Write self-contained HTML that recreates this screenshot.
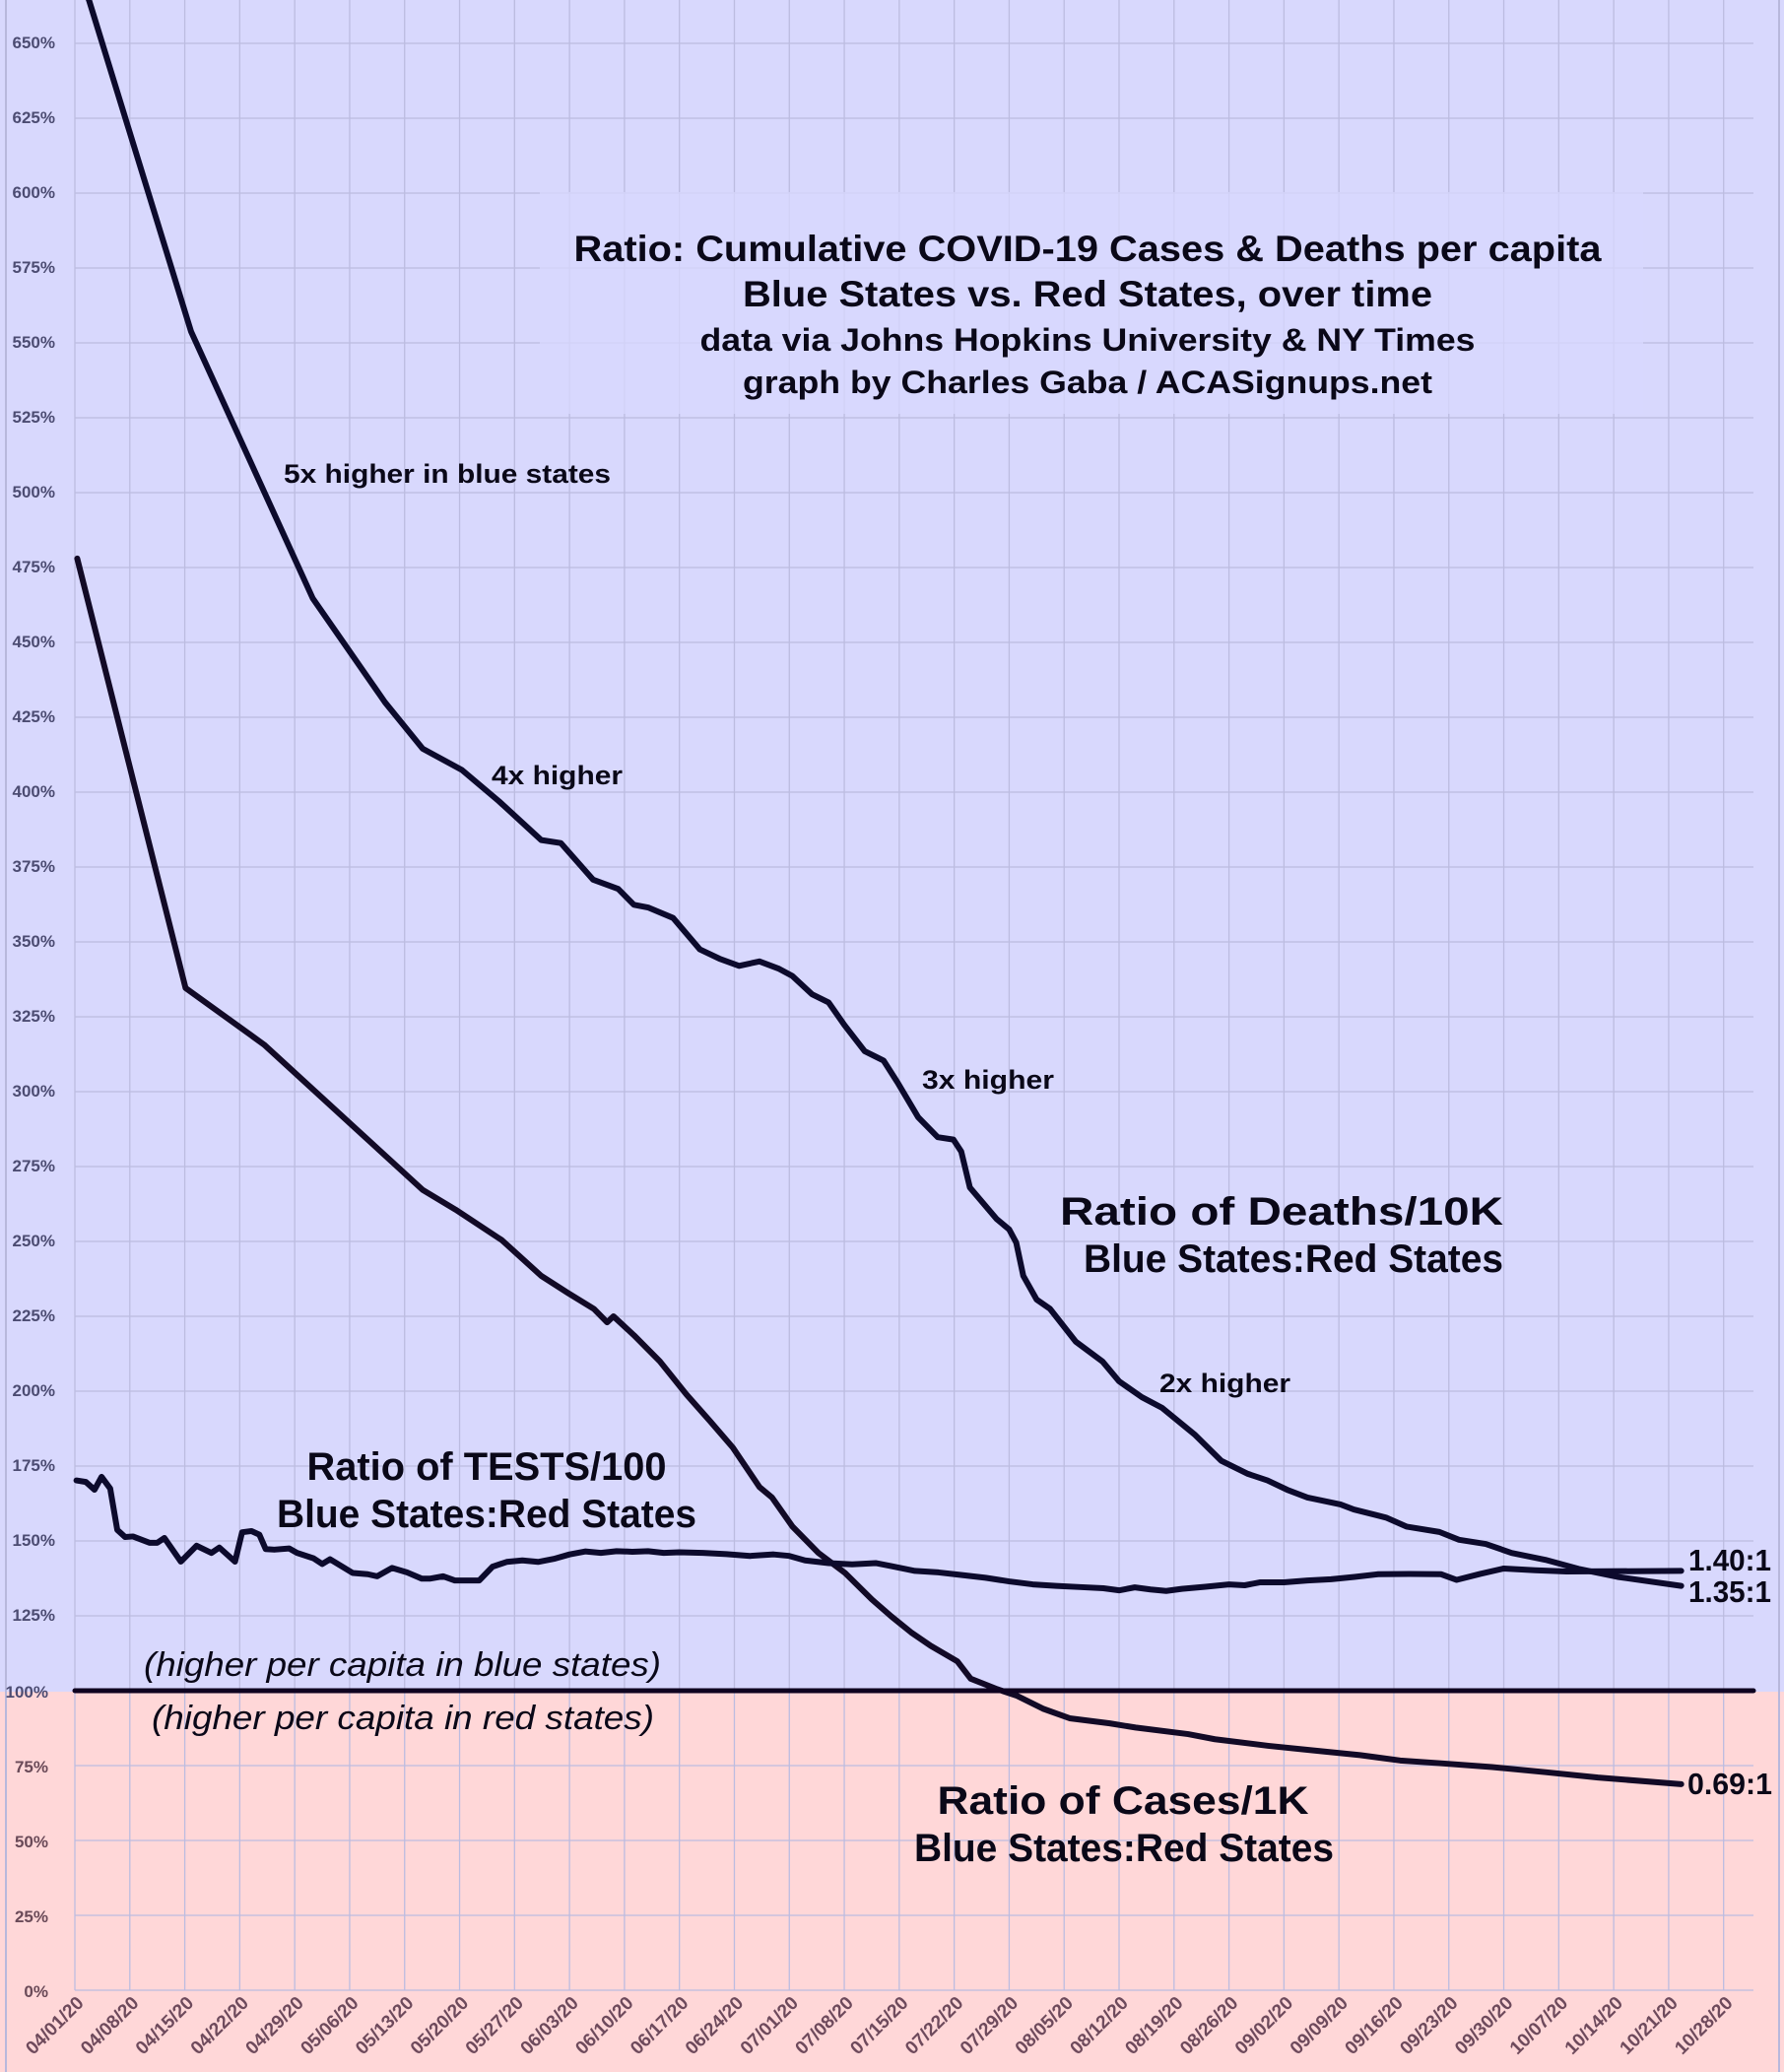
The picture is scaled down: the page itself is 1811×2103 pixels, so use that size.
<!DOCTYPE html>
<html><head><meta charset="utf-8"><style>
html,body{margin:0;padding:0;background:#d8d8fc}
svg{display:block}
text{font-family:"Liberation Sans",sans-serif}
</style></head><body>
<svg width="1811" height="2103" viewBox="0 0 1811 2103" xmlns="http://www.w3.org/2000/svg">
<rect x="0" y="0" width="1811" height="1717" fill="#d8d8fd"/>
<rect x="0" y="1717" width="1811" height="386" fill="#ffd7d8"/>
<line x1="6" y1="0" x2="6" y2="2103" stroke="#b8b8dc" stroke-width="2"/>
<line x1="1806" y1="0" x2="1806" y2="2103" stroke="#b8b8dc" stroke-width="2"/>
<g transform="translate(76,2020) scale(7.97,-3.04)" fill="none" stroke="#bcbce0" stroke-width="1.3">
<path vector-effect="non-scaling-stroke" d="M0,0V665M7,0V665M14,0V665M21,0V665M28,0V665M35,0V665M42,0V665M49,0V665M56,0V665M63,0V665M70,0V665M77,0V665M84,0V665M91,0V665M98,0V665M105,0V665M112,0V665M119,0V665M126,0V665M133,0V665M140,0V665M147,0V665M154,0V665M161,0V665M168,0V665M175,0V665M182,0V665M189,0V665M196,0V665M203,0V665M210,0V665"/>
<path vector-effect="non-scaling-stroke" d="M0,0H213.8M0,25H213.8M0,50H213.8M0,75H213.8M0,125H213.8M0,150H213.8M0,175H213.8M0,200H213.8M0,225H213.8M0,250H213.8M0,275H213.8M0,300H213.8M0,325H213.8M0,350H213.8M0,375H213.8M0,400H213.8M0,425H213.8M0,450H213.8M0,475H213.8M0,500H213.8M0,525H213.8M0,550H213.8M0,575H213.8M0,600H213.8M0,625H213.8M0,650H213.8"/>
</g>
<rect x="548" y="195" width="1120" height="225" fill="#d8d8fd" opacity="0.75"/>
<g transform="translate(76,2020) scale(7.97,-3.04)" fill="none" stroke-linejoin="round" stroke-linecap="round">
<polyline vector-effect="non-scaling-stroke" stroke="#0c0a2c" stroke-width="6" points="0,678 1.85,664 14.8,553.8 30.3,464.7 39.5,430 44.3,414.5 49.3,407.4 54,397 59.4,384 61.9,383 66,370.8 69.2,367.7 71.2,362.4 73,361.5 76.2,358 79.6,347.5 82.1,344.4 84.6,342 87.2,343.5 89.7,341 91.4,338.6 93.9,332.5 96,329.8 98,322.3 100.6,313.5 103,310.4 104.8,303 107.4,291.5 109.9,284.8 111.9,284 112.9,280 114,268 117.4,257.5 119,254 119.9,249.6 120.8,238.5 122.5,230.6 124.2,227.5 127.5,216.5 130.9,209.9 133,203.3 135.9,198 138.5,194.4 142.6,185.6 146,176.8 149.4,172.4 151.9,170.2 154.4,167.1 157,164.5 161.2,162.2 162.9,160.5 167,157.8 169.6,154.8 173.8,153 176.3,150.4 179.7,149 183,146 187.3,143.7 191.5,140.7 196.5,138 204.6,135"/>
<polyline vector-effect="non-scaling-stroke" stroke="#120a26" stroke-width="6" points="0.3,478 14.1,334.6 24.1,315.7 44.3,267.2 48.5,260.6 54.4,250.4 59.4,238.5 62.8,232.8 66.1,227.5 67.8,223 68.6,225 71.2,218.7 74.5,210 77.9,198.9 80.9,190 83.8,181.2 87.2,168 88.8,164.5 91.4,154.8 94.7,146 98.1,139.3 101.5,130.5 104,124.8 106.5,119.5 109,115 112.4,109.8 114.1,104 117.5,100.5 120,98.3 123.3,94 126.7,90.8 131.8,89.1 135.1,87.7 141.8,85.5 145.2,83.8 152,81.6 158.7,79.8 163.7,78.5 168.8,76.7 173.8,75.8 180.5,74.5 187.3,72.8 194,71 204.6,68.8"/>
<polyline vector-effect="non-scaling-stroke" stroke="#0c0a2c" stroke-width="6" points="0.2,170.2 1.4,169.7 2.5,167.1 3.4,171.4 4.5,167.5 5.4,153.7 6.4,151.3 7.4,151.5 9.5,149.4 10.5,149.4 11.4,151 13.5,143.1 15.5,148.4 17.4,146 18.4,147.8 20.4,143.1 21.3,152.9 22.5,153.3 23.5,152.1 24.3,147.3 25.4,147.1 27.3,147.5 28.3,146 30.4,144.2 31.5,142.3 32.5,143.9 35.4,139.3 37.3,138.9 38.5,138.2 40.4,141 42.3,139.5 44.2,137.4 45.2,137.4 46.9,138.2 48.4,136.8 51.5,136.8 53.2,141.4 55,143 57,143.5 59,143 61,144 63,145.5 65,146.5 67,146 69,146.6 71,146.4 73,146.6 75,146 77,146.2 80,146 83,145.6 86,145 89,145.5 91,145 93,143.5 96,142.6 99,142.2 102,142.6 104,141.6 107,140 110,139.5 113,138.6 116,137.7 119,136.5 122,135.5 125,135 128,134.6 131,134.2 133,133.5 135,134.5 137,133.8 139,133.3 141,134 144,134.7 147,135.5 149,135.2 151,136.2 154,136.2 157,136.8 160,137.2 163,138 166,138.9 170,139 174,138.9 176,137 179,139 182,140.8 186,140.2 190,139.8 204.6,140"/>
<path vector-effect="non-scaling-stroke" stroke="#0e0220" stroke-width="5" d="M0,100H213.8"/>
</g>
<g font-size="17" font-weight="bold" fill="#4c4c72" text-anchor="end">
<text x="56" y="49">650%</text><text x="56" y="125">625%</text><text x="56" y="201">600%</text><text x="56" y="277">575%</text><text x="56" y="353">550%</text><text x="56" y="429">525%</text><text x="56" y="505">500%</text><text x="56" y="581">475%</text><text x="56" y="657">450%</text><text x="56" y="733">425%</text><text x="56" y="809">400%</text><text x="56" y="885">375%</text><text x="56" y="961">350%</text><text x="56" y="1037">325%</text><text x="56" y="1113">300%</text><text x="56" y="1189">275%</text><text x="56" y="1265">250%</text><text x="56" y="1341">225%</text><text x="56" y="1417">200%</text><text x="56" y="1493">175%</text><text x="56" y="1569">150%</text><text x="56" y="1645">125%</text><text x="49" y="1723">100%</text>
</g>
<g font-size="17" font-weight="bold" fill="#6a4a58" text-anchor="end">
<text x="49" y="1799">75%</text><text x="49" y="1875">50%</text><text x="49" y="1951">25%</text><text x="49" y="2027">0%</text>
</g>
<g font-size="19" font-weight="bold" fill="#6e4a5c" text-anchor="end">
<text transform="translate(86,2034) rotate(-45)">04/01/20</text>
<text transform="translate(141.8,2034) rotate(-45)">04/08/20</text>
<text transform="translate(197.6,2034) rotate(-45)">04/15/20</text>
<text transform="translate(253.4,2034) rotate(-45)">04/22/20</text>
<text transform="translate(309.2,2034) rotate(-45)">04/29/20</text>
<text transform="translate(365,2034) rotate(-45)">05/06/20</text>
<text transform="translate(420.8,2034) rotate(-45)">05/13/20</text>
<text transform="translate(476.6,2034) rotate(-45)">05/20/20</text>
<text transform="translate(532.4,2034) rotate(-45)">05/27/20</text>
<text transform="translate(588.2,2034) rotate(-45)">06/03/20</text>
<text transform="translate(644,2034) rotate(-45)">06/10/20</text>
<text transform="translate(699.8,2034) rotate(-45)">06/17/20</text>
<text transform="translate(755.6,2034) rotate(-45)">06/24/20</text>
<text transform="translate(811.4,2034) rotate(-45)">07/01/20</text>
<text transform="translate(867.2,2034) rotate(-45)">07/08/20</text>
<text transform="translate(923,2034) rotate(-45)">07/15/20</text>
<text transform="translate(978.8,2034) rotate(-45)">07/22/20</text>
<text transform="translate(1034.6,2034) rotate(-45)">07/29/20</text>
<text transform="translate(1090.4,2034) rotate(-45)">08/05/20</text>
<text transform="translate(1146.2,2034) rotate(-45)">08/12/20</text>
<text transform="translate(1202,2034) rotate(-45)">08/19/20</text>
<text transform="translate(1257.8,2034) rotate(-45)">08/26/20</text>
<text transform="translate(1313.6,2034) rotate(-45)">09/02/20</text>
<text transform="translate(1369.4,2034) rotate(-45)">09/09/20</text>
<text transform="translate(1425.2,2034) rotate(-45)">09/16/20</text>
<text transform="translate(1481,2034) rotate(-45)">09/23/20</text>
<text transform="translate(1536.8,2034) rotate(-45)">09/30/20</text>
<text transform="translate(1592.6,2034) rotate(-45)">10/07/20</text>
<text transform="translate(1648.4,2034) rotate(-45)">10/14/20</text>
<text transform="translate(1704.2,2034) rotate(-45)">10/21/20</text>
<text transform="translate(1760,2034) rotate(-45)">10/28/20</text>
</g>
<g font-weight="bold" fill="#0a0818" text-anchor="middle">
<text x="1104" y="265" font-size="37" textLength="1043" lengthAdjust="spacingAndGlyphs">Ratio: Cumulative COVID-19 Cases &amp; Deaths per capita</text>
<text x="1104" y="311" font-size="37" textLength="700" lengthAdjust="spacingAndGlyphs">Blue States vs. Red States, over time</text>
<text x="1104" y="356" font-size="32" textLength="787" lengthAdjust="spacingAndGlyphs">data via Johns Hopkins University &amp; NY Times</text>
<text x="1104" y="399" font-size="32" textLength="700" lengthAdjust="spacingAndGlyphs">graph by Charles Gaba / ACASignups.net</text>
<text x="1301" y="1243" font-size="40" textLength="450" lengthAdjust="spacingAndGlyphs">Ratio of Deaths/10K</text>
<text x="1313" y="1291" font-size="40" textLength="426" lengthAdjust="spacingAndGlyphs">Blue States:Red States</text>
<text x="494" y="1502" font-size="40" textLength="365" lengthAdjust="spacingAndGlyphs">Ratio of TESTS/100</text>
<text x="494" y="1550" font-size="40" textLength="426" lengthAdjust="spacingAndGlyphs">Blue States:Red States</text>
<text x="1140" y="1841" font-size="40" textLength="377" lengthAdjust="spacingAndGlyphs">Ratio of Cases/1K</text>
<text x="1141" y="1889" font-size="40" textLength="426" lengthAdjust="spacingAndGlyphs">Blue States:Red States</text>
</g>
<g font-weight="bold" fill="#0a0818" font-size="27">
<text x="288" y="490" textLength="332" lengthAdjust="spacingAndGlyphs">5x higher in blue states</text>
<text x="499" y="796" textLength="133" lengthAdjust="spacingAndGlyphs">4x higher</text>
<text x="936" y="1105" textLength="134" lengthAdjust="spacingAndGlyphs">3x higher</text>
<text x="1177" y="1413" textLength="133" lengthAdjust="spacingAndGlyphs">2x higher</text>
</g>
<g font-style="italic" fill="#0a0818" font-size="34">
<text x="146" y="1701" textLength="525" lengthAdjust="spacingAndGlyphs">(higher per capita in blue states)</text>
<text x="154" y="1755" textLength="510" lengthAdjust="spacingAndGlyphs">(higher per capita in red states)</text>
</g>
<g font-weight="bold" fill="#0a0818" font-size="31">
<text x="1714" y="1594" textLength="84" lengthAdjust="spacingAndGlyphs">1.40:1</text>
<text x="1714" y="1626" textLength="84" lengthAdjust="spacingAndGlyphs">1.35:1</text>
<text x="1713" y="1821" textLength="86" lengthAdjust="spacingAndGlyphs">0.69:1</text>
</g>
</svg>
</body></html>
